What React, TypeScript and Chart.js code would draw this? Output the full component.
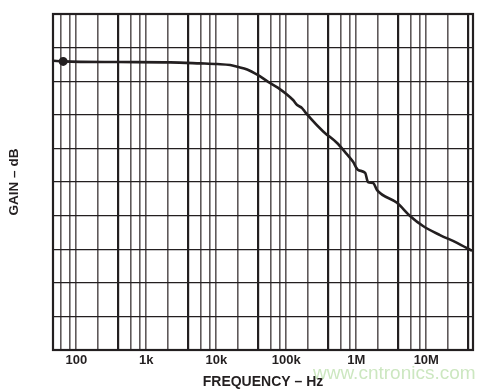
import React, { useEffect, useRef } from "react";
import { Chart, registerables } from "chart.js";

Chart.register(...registerables);

// Frequency (Hz) of the traced gain curve
const freqHz = [
  47, 65, 400, 2200, 5900, 10300, 15800, 19900, 27600, 39600, 55100, 76500,
  125000, 143000, 168000, 186000, 383000, 423000, 532000, 692000, 900000,
  1060000, 1340000, 1470000, 1740000, 1980000, 3820000, 5860000, 8990000,
  15700000, 27500000, 45000000,
];
// Gain, in grid divisions (0 = bottom line, 10 = top line)
const gainDiv = [
  8.61, 8.59, 8.57, 8.56, 8.53, 8.51, 8.48, 8.43, 8.35, 8.18, 7.98, 7.8,
  7.44, 7.29, 7.2, 7.08, 6.4, 6.34, 6.16, 5.89, 5.6, 5.36, 5.27, 5.0, 4.97,
  4.76, 4.38, 3.99, 3.69, 3.42, 3.19, 2.95,
];
// Vertical grid lines
const gridFreqs = [
  60, 80, 100, 200, 400, 600, 800, 1e3, 2e3, 4e3, 6e3, 8e3, 1e4, 2e4, 4e4,
  6e4, 8e4, 1e5, 2e5, 4e5, 6e5, 8e5, 1e6, 2e6, 4e6, 6e6, 8e6, 1e7, 2e7, 4e7,
];
const labelFreqs = [100, 1e3, 1e4, 1e5, 1e6, 1e7];
const tickLabels = ["100", "1k", "10k", "100k", "1M", "10M"];
const X_MIN = 46.5;
const X_MAX = 4.65e7;
const Y_MIN = 0;
const Y_MAX = 10;

const INK = "#231f20";

const boxPlugin = {
  id: "box",
  afterDraw(chart: any) {
    const { ctx, chartArea } = chart;
    ctx.save();
    ctx.strokeStyle = INK;
    ctx.lineWidth = 2.2;
    ctx.strokeRect(
      chartArea.left,
      chartArea.top,
      chartArea.right - chartArea.left,
      chartArea.bottom - chartArea.top
    );
    ctx.restore();
  },
};

export default function App() {
  const ref = useRef<HTMLCanvasElement | null>(null);

  useEffect(() => {
    if (!ref.current) return;
    const isThick = (v: number) => {
      const m = v / Math.pow(10, Math.floor(Math.log10(v) + 1e-9));
      return Math.abs(m - 4) < 1e-6;
    };
    const chart = new Chart(ref.current, {
      type: "line",
      data: {
        datasets: [
          {
            data: freqHz.map((f, i) => ({ x: f, y: gainDiv[i] })),
            borderColor: INK,
            backgroundColor: INK,
            borderWidth: 2.6,
            pointRadius: (c: any) => (c.dataIndex === 1 ? 3.2 : 0),
            pointHoverRadius: 0,
            cubicInterpolationMode: "monotone",
          },
        ],
      },
      options: {
        animation: false,
        responsive: false,
        events: [],
        layout: { padding: { top: 14, right: 24, left: 0, bottom: 0 } },
        plugins: { legend: { display: false }, tooltip: { enabled: false } },
        scales: {
          x: {
            type: "logarithmic",
            min: X_MIN,
            max: X_MAX,
            afterBuildTicks: (scale: any) => {
              scale.ticks = gridFreqs.map((v) => ({ value: v }));
            },
            afterFit: (scale: any) => {
              scale.height = 40;
            },
            ticks: {
              autoSkip: false,
              maxRotation: 0,
              minRotation: 0,
              padding: 3,
              color: INK,
              font: { family: "'Liberation Sans', Arial, sans-serif", size: 13, weight: "bold" },
              callback: (v: any) => {
                const i = labelFreqs.findIndex((f) => Math.abs(f - Number(v)) < 1e-6 * f);
                return i >= 0 ? tickLabels[i] : "";
              },
            },
            grid: {
              drawTicks: false,
              color: (c: any) => (c.tick && isThick(c.tick.value) ? INK : "#5f595a"),
              lineWidth: (c: any) => (c.tick && isThick(c.tick.value) ? 2.2 : 1.6),
            },
            border: { display: false },
            title: {
              display: true,
              text: "FREQUENCY – Hz",
              color: INK,
              font: { family: "'Liberation Sans', Arial, sans-serif", size: 14, weight: "bold", lineHeight: 1 },
              padding: { top: 0, bottom: 1.3 },
            },
          },
          y: {
            type: "linear",
            min: Y_MIN,
            max: Y_MAX,
            afterFit: (scale: any) => {
              scale.width = 53;
            },
            ticks: { stepSize: 1, display: false },
            grid: { drawTicks: false, color: INK, lineWidth: 1.3 },
            border: { display: false },
            title: {
              display: true,
              text: "GAIN – dB",
              color: INK,
              font: { family: "'Liberation Sans', Arial, sans-serif", size: 13.5, weight: "bold", lineHeight: 1 },
              padding: { top: 7.5, bottom: 0 },
            },
          },
        },
      },
      plugins: [boxPlugin],
    } as any);
    return () => chart.destroy();
  }, []);

  return (
    <div style={{ position: "absolute", left: 0, top: 0, width: 497, height: 390, background: "#fff" }}>
      <canvas ref={ref} width={497} height={390} style={{ display: "block" }} />
      <div
        style={{
          position: "absolute",
          left: 313,
          top: 362,
          fontFamily: "'Liberation Sans', Arial, sans-serif",
          fontSize: 19,
          lineHeight: "22px",
          color: "rgba(170, 215, 150, 0.6)",
          whiteSpace: "nowrap",
        }}
      >
        www.cntronics.com
      </div>
    </div>
  );
}
